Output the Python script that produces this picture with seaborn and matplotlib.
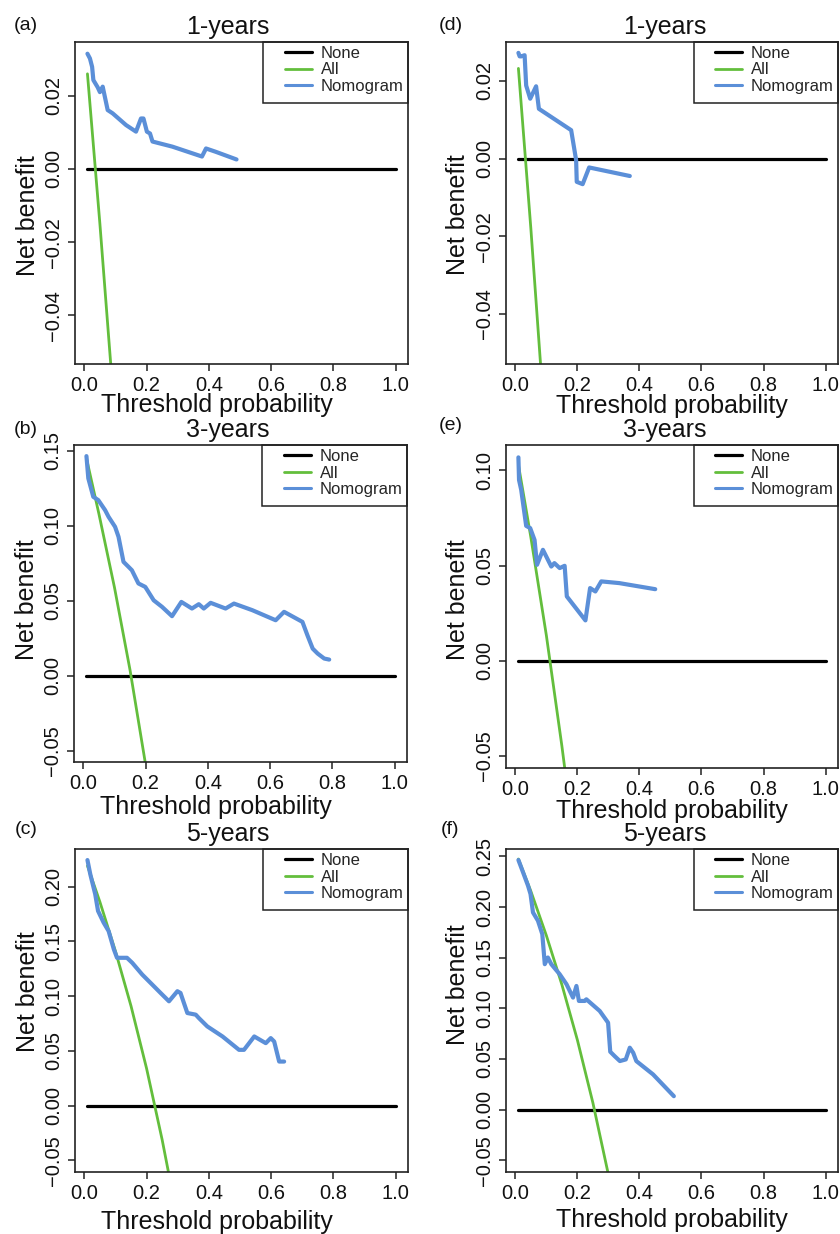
import matplotlib
matplotlib.use("Agg")
import matplotlib.pyplot as plt
from matplotlib.lines import Line2D
from matplotlib.patches import Rectangle
import pandas as pd
import seaborn as sns

# ---- values ----
models = ["None", "All", "Nomogram"]
panel_tags = ["(a)", "(b)", "(c)", "(d)", "(e)", "(f)"]
panel_titles = ["1-years", "3-years", "5-years", "1-years", "3-years", "5-years"]
x_ticks = [0.0, 0.2, 0.4, 0.6, 0.8, 1.0]

none_x = [0.01, 1.0]
none_y = [0.0, 0.0]

# (a) 1-years, left column
a_all_x = [0.01, 0.05, 0.09]
a_all_y = [0.026, -0.015, -0.059]
a_nom_x = [0.01, 0.018, 0.025, 0.029, 0.043, 0.05, 0.059, 0.075, 0.091, 0.134, 0.166,
           0.182, 0.19, 0.201, 0.211, 0.219, 0.283, 0.378, 0.391, 0.422, 0.489]
a_nom_y = [0.0315, 0.0302, 0.0279, 0.0243, 0.0223, 0.021, 0.0225, 0.0161, 0.0152, 0.0120, 0.0102,
           0.0138, 0.0138, 0.0102, 0.0097, 0.0075, 0.0061, 0.0034, 0.0056, 0.0047, 0.0026]
a_yticks = [-0.04, -0.02, 0.0, 0.02]

# (b) 3-years, left column
b_all_x = [0.01, 0.05, 0.10, 0.15, 0.20]
b_all_y = [0.145, 0.108, 0.059, 0.004, -0.059]
b_nom_x = [0.01, 0.016, 0.032, 0.048, 0.07, 0.081, 0.102, 0.113, 0.129, 0.145, 0.156, 0.177,
           0.199, 0.226, 0.253, 0.285, 0.315, 0.349, 0.371, 0.387, 0.409, 0.457, 0.484, 0.543,
           0.618, 0.645, 0.704, 0.72, 0.737, 0.753, 0.774, 0.79]
b_nom_y = [0.1464, 0.1316, 0.1193, 0.1171, 0.1104, 0.106, 0.0993, 0.0927, 0.076, 0.0727, 0.0704,
           0.0616, 0.0593, 0.0504, 0.046, 0.0398, 0.0493, 0.0449, 0.0478, 0.0449, 0.0487, 0.0449,
           0.0482, 0.0438, 0.0371, 0.0427, 0.036, 0.0271, 0.0182, 0.0149, 0.0116, 0.0109]
b_yticks = [-0.05, 0.0, 0.05, 0.10, 0.15]

# (c) 5-years, left column
c_all_x = [0.01, 0.05, 0.10, 0.15, 0.20, 0.25, 0.30]
c_all_y = [0.219, 0.186, 0.141, 0.091, 0.034, -0.031, -0.104]
c_nom_x = [0.01, 0.019, 0.035, 0.044, 0.062, 0.078, 0.095, 0.105, 0.137, 0.154, 0.186, 0.218,
           0.245, 0.272, 0.299, 0.309, 0.331, 0.358, 0.368, 0.395, 0.444, 0.497, 0.513, 0.546,
           0.583, 0.599, 0.61, 0.626, 0.642]
c_nom_y = [0.2242, 0.2114, 0.193, 0.1778, 0.1671, 0.1594, 0.1426, 0.135, 0.135, 0.1304, 0.1197,
           0.1106, 0.1029, 0.0953, 0.1045, 0.1029, 0.0846, 0.0831, 0.08, 0.0724, 0.0632, 0.051,
           0.051, 0.0632, 0.0571, 0.0617, 0.0586, 0.0403, 0.0403]
c_yticks = [-0.05, 0.0, 0.05, 0.10, 0.15, 0.20]

# (d) 1-years, right column
d_all_x = [0.01, 0.05, 0.09]
d_all_y = [0.0232, -0.0179, -0.0626]
d_nom_x = [0.01, 0.014, 0.019, 0.03, 0.035, 0.048, 0.067, 0.076, 0.18, 0.196, 0.198, 0.217,
           0.238, 0.369]
d_nom_y = [0.0272, 0.0263, 0.0263, 0.0266, 0.0188, 0.0154, 0.0186, 0.0128, 0.0073, -0.0004,
           -0.006, -0.0066, -0.0023, -0.0045]
d_yticks = [-0.04, -0.02, 0.0, 0.02]

# (e) 3-years, right column
e_all_x = [0.01, 0.05, 0.10, 0.15, 0.17]
e_all_y = [0.103, 0.065, 0.0134, -0.0447, -0.070]
e_nom_x = [0.01, 0.012, 0.019, 0.035, 0.048, 0.062, 0.07, 0.089, 0.116, 0.126, 0.143, 0.159,
           0.166, 0.226, 0.241, 0.258, 0.277, 0.335, 0.451]
e_nom_y = [0.1069, 0.095, 0.0898, 0.0709, 0.0697, 0.0635, 0.0504, 0.0583, 0.0495, 0.0513,
           0.0487, 0.0499, 0.0338, 0.0212, 0.0382, 0.0364, 0.0417, 0.0408, 0.0376]
e_yticks = [-0.05, 0.0, 0.05, 0.10]

# (f) 5-years, right column
f_all_x = [0.01, 0.05, 0.10, 0.15, 0.20, 0.25, 0.30]
f_all_y = [0.2475, 0.2158, 0.172, 0.1235, 0.0688, 0.0067, -0.0643]
f_nom_x = [0.01, 0.025, 0.041, 0.049, 0.057, 0.073, 0.087, 0.095, 0.105, 0.116, 0.143, 0.165,
           0.186, 0.197, 0.205, 0.224, 0.229, 0.272, 0.299, 0.306, 0.32, 0.337, 0.356, 0.369,
           0.38, 0.39, 0.444, 0.511]
f_nom_y = [0.2465, 0.2343, 0.2211, 0.2129, 0.1947, 0.1865, 0.1733, 0.1436, 0.1502, 0.1436,
           0.1337, 0.1238, 0.1106, 0.1221, 0.1073, 0.1073, 0.1089, 0.0974, 0.0858, 0.0571,
           0.0528, 0.0479, 0.0495, 0.0611, 0.0561, 0.0479, 0.0347, 0.0132]
f_yticks = [-0.05, 0.0, 0.05, 0.10, 0.15, 0.20, 0.25]

curves = [
    (a_all_x, a_all_y, a_nom_x, a_nom_y, a_yticks),
    (b_all_x, b_all_y, b_nom_x, b_nom_y, b_yticks),
    (c_all_x, c_all_y, c_nom_x, c_nom_y, c_yticks),
    (d_all_x, d_all_y, d_nom_x, d_nom_y, d_yticks),
    (e_all_x, e_all_y, e_nom_x, e_nom_y, e_yticks),
    (f_all_x, f_all_y, f_nom_x, f_nom_y, f_yticks),
]

# ---- layout (pixels in an 840x1234 canvas) ----
W, H = 840, 1234
boxes = [(75, 42, 408, 364), (74, 445, 407, 762), (75, 849, 408, 1172),
         (506, 42, 838, 364), (506, 445, 838, 768), (506, 849, 838, 1172)]
ylims = [(-0.0533, 0.0347), (-0.0573, 0.1538), (-0.0605, 0.2343),
         (-0.0529, 0.0300), (-0.0564, 0.1134), (-0.0617, 0.2574)]
xlab_pos = [(0.425, -0.128), (0.427, -0.142), (0.425, -0.155),
            (0.499, -0.13), (0.499, -0.134), (0.499, -0.149)]
ylab_pos = [(-0.141, 0.46), (-0.141, 0.511), (-0.141, 0.557),
            (-0.145, 0.463), (-0.145, 0.52), (-0.145, 0.58)]
title_x = [0.46, 0.461, 0.458, 0.479, 0.477, 0.477]
tag_pos = [(26, 26), (26, 429), (26, 830), (451, 26), (451, 426), (450, 830)]

palette = {"None": "black", "All": "#63BE3C", "Nomogram": "#5B8FD8"}
sizes = {"None": 2.3, "All": 2.0, "Nomogram": 3.0}

sns.set_theme(style="ticks")
plt.rcParams["font.family"] = ["Liberation Sans", "DejaVu Sans"]
edge = "#222222"

fig = plt.figure(figsize=(W / 100, H / 100), dpi=100)

for i, (all_x, all_y, nom_x, nom_y, yticks) in enumerate(curves):
    l, t, r, b = boxes[i]
    ax = fig.add_axes([l / W, 1 - b / H, (r - l) / W, (b - t) / H])

    df = pd.concat([
        pd.DataFrame({"threshold": none_x, "net_benefit": none_y, "model": "None"}),
        pd.DataFrame({"threshold": all_x, "net_benefit": all_y, "model": "All"}),
        pd.DataFrame({"threshold": nom_x, "net_benefit": nom_y, "model": "Nomogram"}),
    ], ignore_index=True)

    sns.lineplot(data=df, x="threshold", y="net_benefit", hue="model", size="model",
                 hue_order=models, size_order=models, palette=palette, sizes=sizes,
                 estimator=None, sort=False, legend=False, ax=ax)

    ax.set_xlim(-0.03, 1.04)
    ax.set_ylim(*ylims[i])
    ax.set_xticks(x_ticks, [f"{v:.1f}" for v in x_ticks])
    ax.set_yticks(yticks, [f"{v:.2f}".replace("-", "\u2212") for v in yticks],
                  rotation=90, va="center")
    ax.tick_params(direction="out", length=5, width=1.1, color=edge, labelsize=14.5,
                   labelcolor="#111111", pad=3.5)
    for s in ax.spines.values():
        s.set_color(edge)
        s.set_linewidth(1.2)

    ax.set_xlabel("Threshold probability", fontsize=18, va="center", color="#111111")
    ax.xaxis.set_label_coords(*xlab_pos[i])
    ax.set_ylabel("Net benefit", fontsize=18, va="center", color="#111111")
    ax.yaxis.set_label_coords(*ylab_pos[i])

    ax.set_title(panel_titles[i], fontsize=18, pad=6, color="#111111")
    ax.title.set_x(title_x[i])

    # legend box, R style
    lw_frac = 0.435
    lh_frac = 61 / (b - t)
    ax.add_patch(Rectangle((1 - lw_frac, 1 - lh_frac), lw_frac, lh_frac,
                           transform=ax.transAxes, fill=False, ec=edge, lw=1.1,
                           clip_on=False, zorder=5))
    handles = [Line2D([], [], color=palette["None"], lw=2.3),
               Line2D([], [], color=palette["All"], lw=2.0),
               Line2D([], [], color=palette["Nomogram"], lw=2.2)]
    ax.legend(handles, models, loc="upper right", bbox_to_anchor=(1.0, 1.0),
              frameon=False, fontsize=12, handlelength=1.6, handletextpad=0.55,
              labelspacing=0.08, borderpad=0.25, borderaxespad=0.0)

    tx, ty = tag_pos[i]
    fig.text(tx / W, 1 - ty / H, panel_tags[i], fontsize=14, ha="center", va="center",
             color="#111111")

fig.savefig("out.png", dpi=100)
